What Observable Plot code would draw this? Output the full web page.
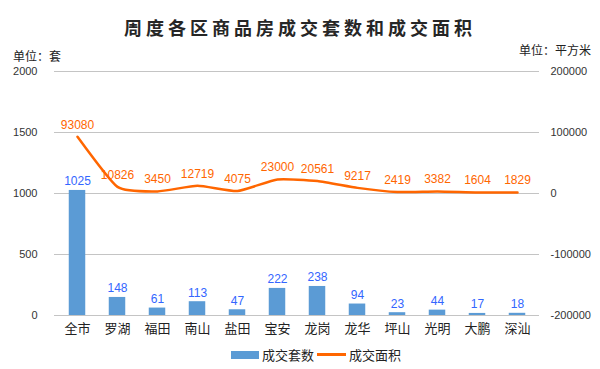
<!DOCTYPE html>
<html>
<head>
<meta charset="utf-8">
<script src="https://cdn.jsdelivr.net/npm/d3@7"></script>
<script src="https://cdn.jsdelivr.net/npm/@observablehq/plot@0.6"></script>
<style>
  body { margin: 0; background: #fff; }
  #wrap { position: relative; width: 600px; height: 369px; overflow: hidden; font-family: "Noto Sans CJK SC", sans-serif; }
  #wrap svg { position: absolute; left: 0; top: 0; }
  .lbl { position: absolute; white-space: nowrap; color: #222; }
</style>
</head>
<body>
<div id="wrap">
  <div class="lbl" id="title" style="left:0;width:600px;top:14px;text-align:center;font-size:18px;font-weight:bold;letter-spacing:4px;color:#262626;">周度各区商品房成交套数和成交面积</div>
  <div class="lbl" style="left:13px;top:47px;font-size:12px;">单位：套</div>
  <div class="lbl" style="right:9px;top:41px;font-size:12px;">单位：平方米</div>
  <div class="lbl" style="left:231px;top:345px;font-size:13px;display:flex;align-items:center;gap:0;">
    <span style="display:inline-block;width:28px;height:8px;background:#5B9BD5;margin-right:3px;"></span><span>成交套数</span>
    <span style="display:inline-block;width:29px;height:3px;background:#FF6600;margin:0 3px 0 3px;"></span><span>成交面积</span>
  </div>
</div>
<script>
const categories = ["全市", "罗湖", "福田", "南山", "盐田", "宝安", "龙岗", "龙华", "坪山", "光明", "大鹏", "深汕"];
const units = [1025, 148, 61, 113, 47, 222, 238, 94, 23, 44, 17, 18];
const areas = [93080, 10826, 3450, 12719, 4075, 23000, 20561, 9217, 2419, 3382, 1604, 1829];
const leftTicks = [0, 500, 1000, 1500, 2000];
const rightTicks = [-200000, -100000, 0, 100000, 200000];

const toLeft = a => a / 200 + 1000; // right axis [-200000,200000] onto left [0,2000]
const rows = categories.map((c, i) => ({cat: c, units: units[i], area: areas[i], areaY: toLeft(areas[i])}));

const chart = Plot.plot({
  width: 600,
  height: 369,
  marginLeft: 54,
  marginRight: 61,
  marginTop: 71,
  marginBottom: 54,
  style: {fontFamily: "Liberation Sans, Arial, sans-serif", fontSize: "11px", color: "#333", background: "transparent"},
  x: {domain: categories, padding: 0, label: null},
  y: {domain: [0, 2000], label: null},
  marks: [
    Plot.gridY(leftTicks, {stroke: "#c4c4c4", strokeOpacity: 1, strokeWidth: 1}),
    Plot.axisY(leftTicks, {anchor: "left", tickSize: 0, tickPadding: 17, label: null, fontSize: 11, fill: "#333", tickFormat: d => String(d)}),
    Plot.axisY(rightTicks.map(toLeft), {anchor: "right", tickSize: 0, tickPadding: 11, label: null, fontSize: 11, fill: "#333", tickFormat: d => String(Math.round((d - 1000) * 200))}),
    Plot.axisX({tickSize: 0, tickPadding: 8, label: null, fontSize: 13, fontFamily: "Noto Sans CJK SC, sans-serif", fill: "#222"}),
    Plot.barY(rows, {x: "cat", y: "units", fill: "#5B9BD5", insetLeft: 11.75, insetRight: 11.75}),
    Plot.line(rows, {x: "cat", y: "areaY", stroke: "#FF6600", strokeWidth: 2.5, curve: "cardinal", tension: 0.5}),
    Plot.text(rows, {x: "cat", y: "units", text: d => String(d.units), dy: -9, fill: "#3366FF", fontSize: 12}),
    Plot.text(rows, {x: "cat", y: "areaY", text: d => String(d.area), dy: -12, fill: "#FF6600", fontSize: 12})
  ]
});
document.getElementById("wrap").prepend(chart);
</script>
</body>
</html>
